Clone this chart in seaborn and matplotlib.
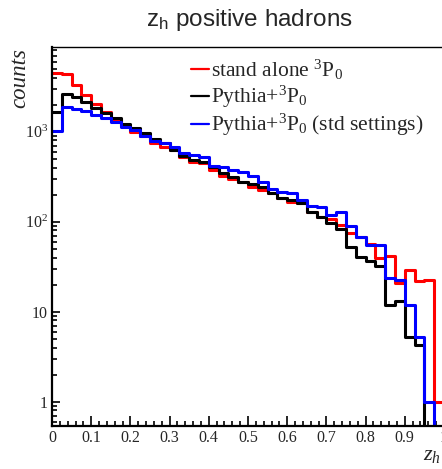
import numpy as np
import pandas as pd
import matplotlib
matplotlib.use("Agg")
import matplotlib.pyplot as plt
from matplotlib.lines import Line2D
from matplotlib.ticker import MultipleLocator, LogLocator, NullFormatter
import seaborn as sns

# z_h histogram, 40 bins from 0 to 1
bin_edges = np.linspace(0, 1, 41)
bin_centers = 0.5 * (bin_edges[:-1] + bin_edges[1:])

standalone = [4450, 4400, 3300, 2560, 2030, 1670, 1400, 1150, 1000, 900,
              745, 680, 625, 530, 465, 445, 380, 320, 295, 278,
              245, 225, 207, 182, 167, 160, 129, 114, 108, 92,
              74, 67, 56, 40, 42, 21, 29, 22, 22.5, 1]
pythia = [1670, 2600, 2410, 2120, 1820, 1600, 1410, 1220, 1090, 960,
          825, 745, 625, 537, 485, 464, 402, 350, 316, 278,
          260, 245, 210, 182, 174, 160, 129, 114, 97, 82,
          53, 41, 37, 32, 12, 13, 5.3, 4.3, 0, 0]
pythia_std = [1020, 1870, 1770, 1690, 1530, 1430, 1290, 1135, 1045, 905,
              795, 745, 670, 575, 550, 527, 416, 408, 375, 359,
              322, 278, 229, 215, 207, 174, 149, 147, 119, 129,
              90, 67, 55, 55, 23.5, 22.5, 12, 5.3, 1, 0]

labels = [r"stand alone $^{3}\mathrm{P}_{0}$",
          r"Pythia+$^{3}\mathrm{P}_{0}$",
          r"Pythia+$^{3}\mathrm{P}_{0}$ (std settings)"]
colors = ["#ff0000", "#000000", "#0000ff"]

xtick_vals = [0, 0.1, 0.2, 0.3, 0.4, 0.5, 0.6, 0.7, 0.8, 0.9, 1]
xtick_labels = ["0", "0.1", "0.2", "0.3", "0.4", "0.5", "0.6", "0.7", "0.8", "0.9", "1"]
ytick_vals = [1, 10, 100, 1000]
ytick_labels = ["1", "10", r"$10^{2}$", r"$10^{3}$"]

sns.set_style("ticks")
plt.rcParams["font.family"] = ["Liberation Serif", "DejaVu Serif"]
plt.rcParams["mathtext.fontset"] = "custom"
plt.rcParams["mathtext.rm"] = "Liberation Serif"
plt.rcParams["mathtext.it"] = "Liberation Serif:italic"
plt.rcParams["mathtext.sf"] = "Liberation Sans"

fig = plt.figure(figsize=(4.42, 4.69), dpi=100)
ax = fig.add_axes([52 / 442, 43 / 469, 392 / 442, 379 / 469])

for vals, col in zip([standalone, pythia, pythia_std], colors):
    df = pd.DataFrame({"z": bin_centers, "counts": vals})
    sns.histplot(data=df, x="z", weights="counts", binwidth=0.025, binrange=(0, 1),
                 element="step", fill=False, color=col, linewidth=2.2, ax=ax)

ax.set_yscale("log")
ax.set_xlim(0, 1)
ax.set_ylim(0.537, 8730)
ax.set_xlabel("")
ax.set_ylabel("")

ax.set_xticks(xtick_vals)
ax.set_xticklabels(xtick_labels)
ax.xaxis.set_minor_locator(MultipleLocator(0.02))
ax.set_yticks(ytick_vals)
ax.set_yticklabels(ytick_labels)
ax.yaxis.set_minor_locator(LogLocator(base=10, subs=np.arange(2, 10), numticks=20))
ax.yaxis.set_minor_formatter(NullFormatter())
ax.tick_params(which="both", direction="in", top=False, right=False,
               labelsize=11.5, width=1.2, color="black")
ax.tick_params(axis="x", which="major", length=7, pad=3)
ax.tick_params(axis="x", which="minor", length=3.6)
ax.tick_params(axis="y", which="major", length=6, pad=3)
ax.tick_params(axis="y", which="minor", length=3.6)

for side in ["left", "bottom"]:
    ax.spines[side].set_linewidth(1.6)
    ax.spines[side].set_color("black")
ax.spines["top"].set_linewidth(1.0)
ax.spines["top"].set_color("black")
ax.spines["right"].set_visible(False)

handles = [Line2D([], [], color=c, lw=1.6) for c in colors]
ax.legend(handles, labels, loc="upper left", bbox_to_anchor=(191 / 442, 1 - 58 / 469),
          bbox_transform=fig.transFigure, frameon=False, fontsize=15.5,
          handlelength=0.85, handletextpad=0.1, labelspacing=0.09,
          borderpad=0, borderaxespad=0)

fig.text(249 / 442, 1 - 26 / 469, r"z$_{\mathsf{h}}$ positive hadrons",
         family="Liberation Sans", fontsize=17.5, ha="center", va="baseline")
fig.text(20 / 442, 1 - 48 / 469, "counts", rotation=90, ha="center", va="top",
         fontsize=16.5, style="italic")
fig.text(423 / 442, 1 - 460 / 469, r"$z_{h}$", fontsize=16, ha="left", va="baseline")

fig.savefig("out.png", dpi=100)
